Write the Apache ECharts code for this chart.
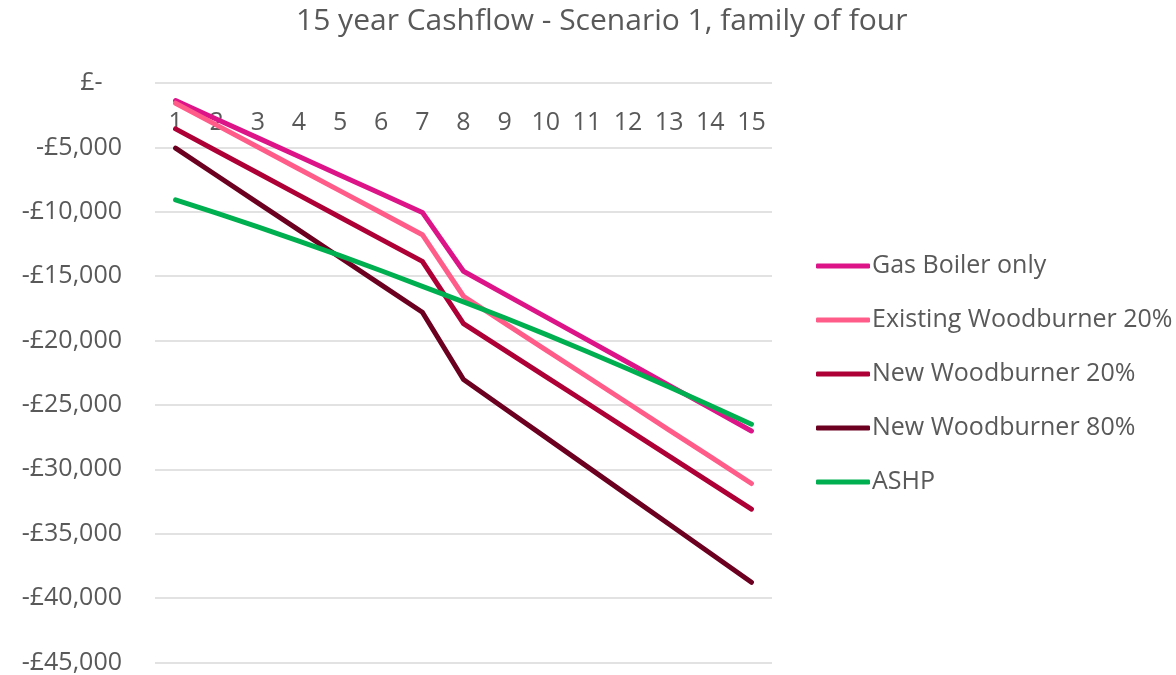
<!DOCTYPE html>
<html>
<head>
<meta charset="utf-8">
<script src="https://cdn.jsdelivr.net/npm/echarts@6/dist/echarts.min.js"></script>
<style>
  html, body { margin: 0; padding: 0; background: #fff; }
  #chart { width: 1176px; height: 675px; }
</style>
</head>
<body>
<div id="chart"></div>
<script>
// years on the x axis
const years = ['1','2','3','4','5','6','7','8','9','10','11','12','13','14','15'];

// cumulative cashflow per scenario (£)
const gasBoiler = [-1370, -2820, -4260, -5710, -7160, -8600, -10050, -14620, -16390, -18160, -19930, -21700, -23480, -25250, -27020];
const existingWb20 = [-1570, -3270, -4970, -6680, -8380, -10080, -11780, -16560, -18640, -20720, -22790, -24870, -26950, -29020, -31100];
const newWb20 = [-3565, -5280, -6990, -8710, -10420, -12140, -13850, -18680, -20740, -22800, -24850, -26910, -28970, -31030, -33090];
const newWb80 = [-5060, -7180, -9310, -11430, -13550, -15680, -17800, -23020, -25270, -27520, -29770, -32020, -34270, -36520, -38770];
const ashp = [-9070, -10110, -11180, -12280, -13410, -14580, -15790, -16990, -18230, -19520, -20850, -22210, -23610, -25040, -26500];

const seriesNames = ['Gas Boiler only', 'Existing Woodburner 20%', 'New Woodburner 20%', 'New Woodburner 80%', 'ASHP'];
const seriesData = [gasBoiler, existingWb20, newWb20, newWb80, ashp];
const colors = ['#DC1488', '#FF5C8A', '#AE0036', '#6B0021', '#00B050'];

const textColor = '#595959';
const fontFamily = '"Open Sans", Lato, sans-serif';

function money(v) {
  if (v === 0) return '£-   ';
  return '-£' + Math.abs(v).toLocaleString('en-GB');
}

const chart = echarts.init(document.getElementById('chart'));
chart.setOption({
  animation: false,
  color: colors,
  textStyle: { fontFamily: fontFamily, color: textColor },
  title: {
    text: '15 year Cashflow - Scenario 1, family of four',
    left: 291,
    top: 1,
    textStyle: { fontSize: 30, fontWeight: 'normal', color: textColor, fontFamily: fontFamily }
  },
  legend: {
    orient: 'vertical',
    left: 811,
    top: 244,
    icon: 'roundRect',
    itemWidth: 54,
    itemHeight: 5,
    itemGap: 20,
    textStyle: { fontSize: 25, lineHeight: 34, color: textColor, fontFamily: fontFamily, padding: [0, 0, 0, -3] },
    data: seriesNames
  },
  grid: { left: 155, right: 404, top: 83, bottom: 11.5, containLabel: false },
  xAxis: {
    type: 'category',
    position: 'top',
    data: years,
    boundaryGap: true,
    axisLine: { show: false },
    axisTick: { show: false },
    axisLabel: { inside: true, margin: 27, fontSize: 25, color: textColor }
  },
  yAxis: {
    type: 'value',
    min: -45000,
    max: 0,
    interval: 5000,
    axisLine: { show: false },
    axisTick: { show: false },
    splitLine: { lineStyle: { color: '#D9D9D9', width: 1.5 } },
    axisLabel: { margin: 33, fontSize: 25, color: textColor, formatter: money }
  },
  series: seriesNames.map((name, i) => ({
    name: name,
    type: 'line',
    data: seriesData[i],
    symbol: 'none',
    lineStyle: { width: 5, color: colors[i], cap: 'round', join: 'round' }
  }))
});
</script>
</body>
</html>
